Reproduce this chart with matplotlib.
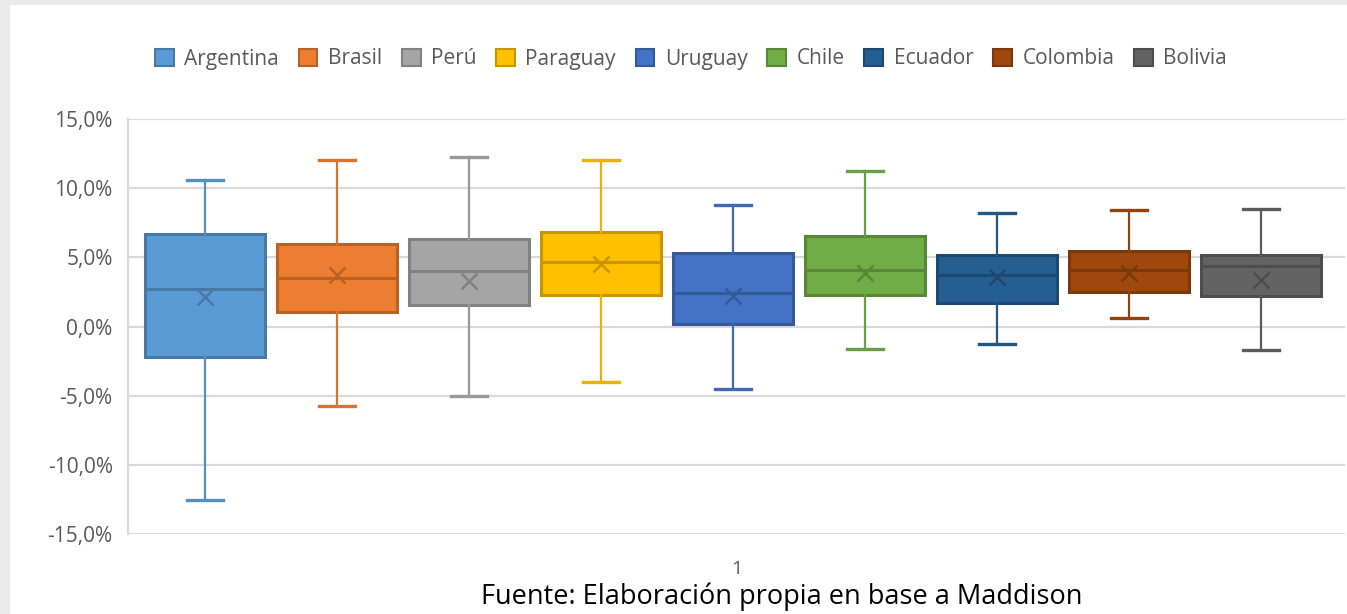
import matplotlib
matplotlib.use("Agg")
import matplotlib.pyplot as plt
from matplotlib.patches import Patch, Rectangle
import numpy as np

# ---- data (percent) ----
countries = ["Argentina", "Brasil", "Perú", "Paraguay", "Uruguay", "Chile", "Ecuador", "Colombia", "Bolivia"]
whisk_hi = [10.57, 12.07, 12.28, 12.05, 8.8, 11.25, 8.2, 8.43, 8.48]
q3       = [6.70, 5.97, 6.29, 6.85, 5.30, 6.55, 5.20, 5.44, 5.15]
median   = [2.72, 3.52, 4.02, 4.67, 2.45, 4.05, 3.73, 4.10, 4.34]
mean     = [2.12, 3.74, 3.32, 4.50, 2.20, 3.85, 3.56, 3.85, 3.37]
q1       = [-2.24, 1.06, 1.59, 2.30, 0.20, 2.30, 1.70, 2.53, 2.24]
whisk_lo = [-12.57, -5.78, -5.06, -4.0, -4.5, -1.6, -1.25, 0.58, -1.7]
colors   = ["#5B9BD5", "#ED7D31", "#A5A5A5", "#FFC000", "#4472C4", "#70AD47", "#255E91", "#9E480E", "#636363"]
yticks   = [-15, -10, -5, 0, 5, 10, 15]
xlabel_tick = "1"
source = "Fuente: Elaboración propia en base a Maddison"

plt.rcParams['font.family'] = ['Open Sans', 'DejaVu Sans']

def darker(c, f=0.8):
    rgb = np.array(matplotlib.colors.to_rgb(c))
    return tuple(rgb * f)

W, H = 1347, 614
fig = plt.figure(figsize=(W / 100, H / 100), dpi=100)
fig.patch.set_facecolor("#ebebeb")
fig.patches.append(Rectangle((10 / W, 0), 1 - 10 / W, 1 - 5 / H, transform=fig.transFigure,
                             facecolor="white", edgecolor="none", zorder=-10))

ax = fig.add_axes([128 / W, 1 - 534 / H, (1345 - 128) / W, (534 - 119) / H])
ax.set_facecolor("none")
ax.set_zorder(2)

n = len(countries)
positions = np.arange(n)
for i in range(n):
    st = [dict(med=median[i], q1=q1[i], q3=q3[i], whislo=whisk_lo[i], whishi=whisk_hi[i],
               mean=mean[i], fliers=[], label=countries[i])]
    dk = darker(colors[i], 0.78)
    ax.bxp(st, positions=[positions[i]], widths=0.91, patch_artist=True, showmeans=True,
           showfliers=False, manage_ticks=False,
           boxprops=dict(facecolor=colors[i], edgecolor=dk, linewidth=2.2),
           medianprops=dict(color=dk, linewidth=2.2),
           whiskerprops=dict(color=darker(colors[i], 0.92), linewidth=1.6),
           capprops=dict(color=darker(colors[i], 0.92), linewidth=2.4),
           capwidths=0.27,
           meanprops=dict(marker="x", markeredgecolor=dk, markersize=11, markeredgewidth=1.8),
           zorder=3)

ax.set_xlim(-0.585, 8.635)
ax.set_ylim(-15, 15)
ax.set_yticks(yticks)
ax.set_yticklabels([f"{v},0%" for v in yticks])
xc = sum(ax.get_xlim()) / 2
ax.set_xticks([xc])
ax.set_xticklabels([xlabel_tick])
ax.tick_params(axis="both", length=0, labelcolor="#595959")
ax.tick_params(axis="y", labelsize=15, pad=11)
ax.tick_params(axis="x", labelsize=14, pad=19)
ax.grid(axis="y", color="#d9d9d9", linewidth=1.6, zorder=0)
ax.set_axisbelow(True)
for s in ["top", "right", "bottom"]:
    ax.spines[s].set_visible(False)
ax.spines["left"].set_color("#d9d9d9")
ax.spines["left"].set_linewidth(1.6)

handles = [Patch(facecolor=c, edgecolor=darker(c, 0.78), linewidth=1.5) for c in colors]
fig.legend(handles, countries, loc="center", bbox_to_anchor=(691 / W, 1 - 59 / H), ncol=n,
           frameon=False, fontsize=15, handlelength=0.9, handleheight=0.9,
           handletextpad=0.5, columnspacing=0.95, labelcolor="#595959")

fig.text(782 / W, 1 - 597 / H, source, ha="center", va="center", fontsize=19.5, color="black")

fig.savefig("out.png", dpi=100)
